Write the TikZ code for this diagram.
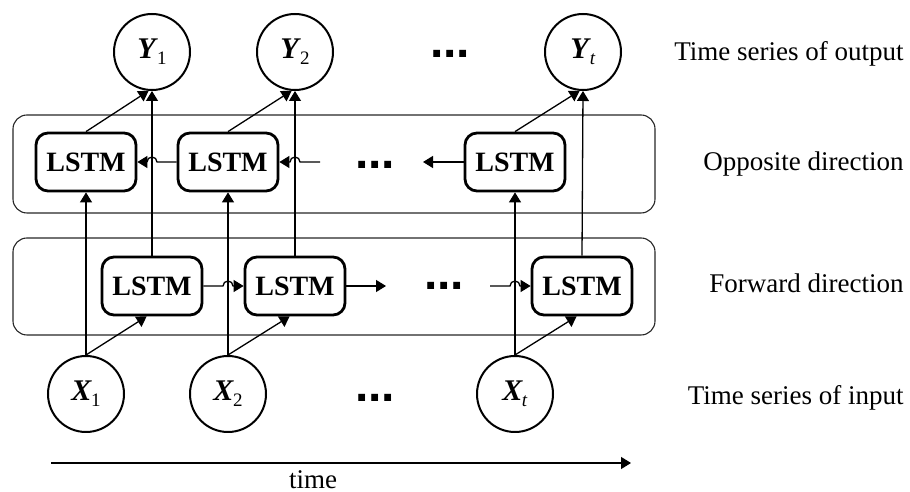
\documentclass[tikz,border=0pt]{standalone}
\usepackage{fontspec}
\setmainfont{Liberation Serif}
\newfontfamily\dotsfont{Liberation Sans}
\usetikzlibrary{arrows.meta,calc}
% bold italic variable with a small lowered index
\newcommand{\seriesvar}[2]{\textbf{\textit{#1}}\kern-0.5pt\raisebox{-0.45ex}{\fontsize{9.5}{9.5}\selectfont#2}}

\begin{document}
\begin{tikzpicture}[x=0.5pt,y=0.5pt,
  every node/.style={font=\fontsize{13.5}{16}\selectfont},
  series/.style={draw,circle,line width=1pt,minimum size=38pt,inner sep=0pt,font=\fontsize{15}{16}\selectfont},
  cell/.style={draw,rounded corners=6pt,line width=1.4pt,minimum width=50pt,minimum height=29pt,inner sep=0pt,font=\fontsize{14}{16}\selectfont\bfseries},
  panel/.style={draw=black!85,rounded corners=7pt,line width=0.55pt},
  link/.style={line width=0.65pt,-{Triangle[length=5pt,width=6pt]}},
  gap/.style={anchor=base,font=\fontsize{24}{24}\selectfont\dotsfont\bfseries},
  side/.style={anchor=base east,inner sep=0pt}]
\useasboundingbox (0,0) rectangle (910,492);

% outputs
\node[series] (Y1) at (152,440) {\seriesvar{Y}{1}};
\node[series] (Y2) at (295,440) {\seriesvar{Y}{2}};
\node[gap] (yDots) at (450,434) {...};
\node[series] (Yt) at (583,440) {\seriesvar{Y}{\textit{t}}};

% the two layers
\draw[panel] (13,377) rectangle (655,279);
\draw[panel] (13,254) rectangle (655,157);

\node[cell] (oB1) at (86,330) {LSTM};
\node[cell] (oB2) at (228,330) {LSTM};
\node[gap] (oDots) at (375,323) {...};
\node[cell] (oB3) at (515,330) {LSTM};

\node[cell] (fB1) at (152,206) {LSTM};
\node[cell] (fB2) at (295,206) {LSTM};
\node[gap] (fDots) at (444,202) {...};
\node[cell] (fB3) at (582,206) {LSTM};

% inputs
\node[series] (X1) at (86,98) {\seriesvar{X}{1}};
\node[series] (X2) at (228,98) {\seriesvar{X}{2}};
\node[gap] (xDots) at (375,90) {...};
\node[series] (Xt) at (515,98) {\seriesvar{X}{\textit{t}}};

\coordinate (oIn) at (320,330);
\coordinate (oOut) at (423,330);
\coordinate (fOut) at (386,206);
\coordinate (fIn) at (490,206);
\coordinate (tStart) at (51,29);
\coordinate (tEnd) at (631,29);

% column 1
\draw[link] (X1.north) -- (oB1.south);
\draw[link] (X1.north) -- (fB1.-100);
\draw[link] (fB1.north) -- (Y1.south);
\draw[link] (oB1.north) -- (Y1.-95);
% column 2
\draw[link] (X2.north) -- (oB2.south);
\draw[link] (X2.north) -- (fB2.-100);
\draw[link] (fB2.north) -- (Y2.south);
\draw[link] (oB2.north) -- (Y2.-95);
% column t
\draw[link] (Xt.north) -- (oB3.south);
\draw[link] (Xt.north) -- (fB3.-100);
\draw[link] (fB3.north) -- (Yt.south);
\draw[link] (oB3.north) -- (Yt.-95);

% backward chain, hopping over the verticals
\draw[link] (oB2.west) -- ($(fB1.north |- oB2.west)+(2.5pt,0)$) arc[start angle=0,end angle=180,radius=2.5pt] -- (oB1.east);
\draw[link] (oIn) -- ($(fB2.north |- oIn)+(2.5pt,0)$) arc[start angle=0,end angle=180,radius=2.5pt] -- (oB2.east);
\draw[link] (oB3.west) -- (oOut);

% forward chain
\draw[link] (fB1.east) -- ($(X2.north |- fB1.east)+(-2.5pt,0)$) arc[start angle=180,end angle=0,radius=2.5pt] -- (fB2.west);
\draw[link] (fB2.east) -- (fOut);
\draw[link] (fIn) -- ($(Xt.north |- fIn)+(-2.5pt,0)$) arc[start angle=180,end angle=0,radius=2.5pt] -- (fB3.west);

% time axis
\draw[link] (tStart) -- (tEnd);
\node[anchor=base] (timeLabel) at (313,3) {time};

\node[side] (outLabel) at (904,431) {Time series of output};
\node[side] (oppLabel) at (904,321) {Opposite direction};
\node[side] (fwdLabel) at (904,199) {Forward direction};
\node[side] (inLabel) at (904,87) {Time series of input};
\end{tikzpicture}
\end{document}
